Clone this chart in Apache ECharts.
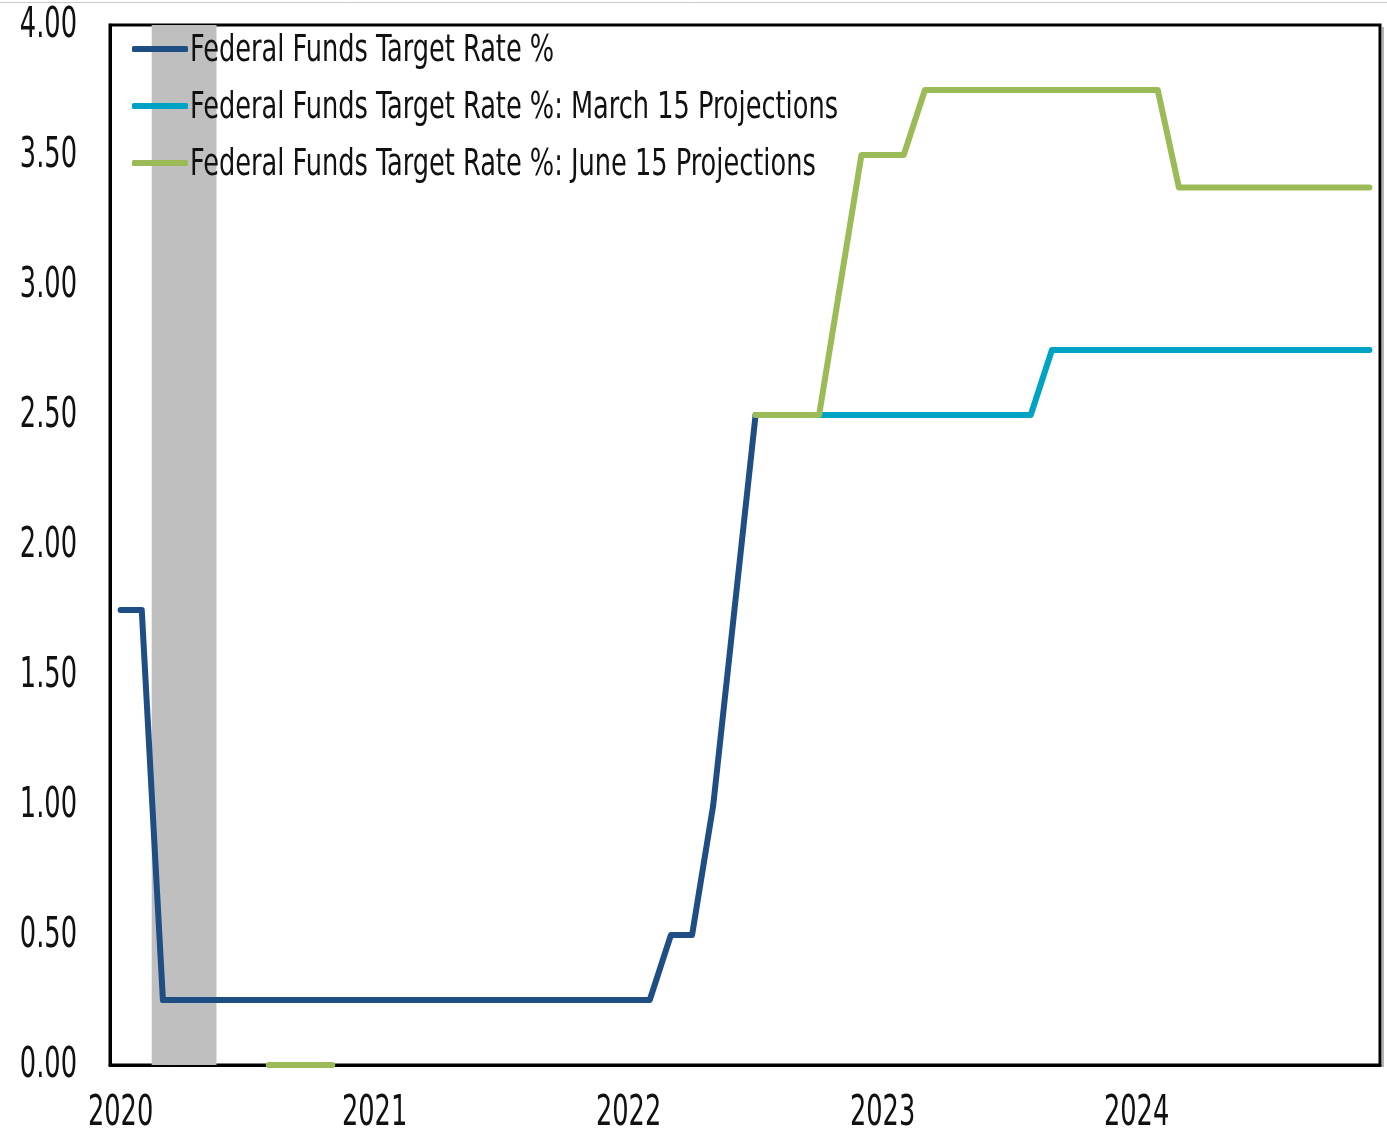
<!DOCTYPE html>
<html>
<head>
<meta charset="utf-8">
<script src="https://cdn.jsdelivr.net/npm/echarts@6/dist/echarts.min.js"></script>
<style>
html,body{margin:0;padding:0;background:#fff;}
#chart{width:1387px;height:1135px;}
</style>
</head>
<body>
<div id="chart"></div>
<script>
// Monthly categories Jan 2020 .. Dec 2024
const months = [
 '2020-01','2020-02','2020-03','2020-04','2020-05','2020-06','2020-07','2020-08','2020-09','2020-10','2020-11','2020-12',
 '2021-01','2021-02','2021-03','2021-04','2021-05','2021-06','2021-07','2021-08','2021-09','2021-10','2021-11','2021-12',
 '2022-01','2022-02','2022-03','2022-04','2022-05','2022-06','2022-07','2022-08','2022-09','2022-10','2022-11','2022-12',
 '2023-01','2023-02','2023-03','2023-04','2023-05','2023-06','2023-07','2023-08','2023-09','2023-10','2023-11','2023-12',
 '2024-01','2024-02','2024-03','2024-04','2024-05','2024-06','2024-07','2024-08','2024-09','2024-10','2024-11','2024-12'
];
const xTickLabels = ['2020', '2021', '2022', '2023', '2024'];
const yTicks = [0, 0.5, 1, 1.5, 2, 2.5, 3, 3.5, 4];
const seriesNames = [
  'Federal Funds Target Rate %',
  'Federal Funds Target Rate %: March 15 Projections',
  'Federal Funds Target Rate %: June 15 Projections'
];
const fedFunds = [
 1.75,1.75,0.25,0.25,0.25,0.25,0.25,0.25,0.25,0.25,0.25,0.25,
 0.25,0.25,0.25,0.25,0.25,0.25,0.25,0.25,0.25,0.25,0.25,0.25,
 0.25,0.25,0.50,0.50,1.00,1.75,2.50,null,null,null,null,null,
 null,null,null,null,null,null,null,null,null,null,null,null,
 null,null,null,null,null,null,null,null,null,null,null,null
];
const marchProj = [
 null,null,null,null,null,null,null,null,null,null,null,null,
 null,null,null,null,null,null,null,null,null,null,null,null,
 null,null,null,null,null,null,2.50,2.50,2.50,2.50,2.50,2.50,
 2.50,2.50,2.50,2.50,2.50,2.50,2.50,2.50,2.75,2.75,2.75,2.75,
 2.75,2.75,2.75,2.75,2.75,2.75,2.75,2.75,2.75,2.75,2.75,2.75
];
const juneProj = [
 null,null,null,null,null,null,null,0,0,0,0,null,
 null,null,null,null,null,null,null,null,null,null,null,null,
 null,null,null,null,null,null,2.50,2.50,2.50,2.50,3.00,3.50,
 3.50,3.50,3.75,3.75,3.75,3.75,3.75,3.75,3.75,3.75,3.75,3.75,
 3.75,3.75,3.375,3.375,3.375,3.375,3.375,3.375,3.375,3.375,3.375,3.375
];
// Recession shading (months in recession)
const recession = [
 null,null,4,4,4,null,null,null,null,null,null,null,
 null,null,null,null,null,null,null,null,null,null,null,null,
 null,null,null,null,null,null,null,null,null,null,null,null,
 null,null,null,null,null,null,null,null,null,null,null,null,
 null,null,null,null,null,null,null,null,null,null,null,null
];
const colors = ['#1F4E84', '#00A3C4', '#9BBB59'];

const FONT = "'DejaVu Sans Condensed', 'DejaVu Sans', sans-serif";
const AXIS_FS = 42, AXIS_SX = 0.68;
const LEG_FS = 38, LEG_SX = 0.75;
const LEG_TOP = 41, LEG_STEP = 57;

const chart = echarts.init(document.getElementById('chart'), null, {renderer: 'canvas'});
const lineSeries = [fedFunds, marchProj, juneProj].map((d, i) => ({
  name: seriesNames[i],
  type: 'line',
  data: d,
  symbol: 'none',
  connectNulls: false,
  z: 3 + i,
  lineStyle: {color: colors[i], width: 6, cap: 'round', join: 'round'},
  itemStyle: {color: colors[i]}
}));
chart.setOption({
  animation: false,
  backgroundColor: '#fff',
  textStyle: {fontFamily: FONT},
  grid: {left: 110, top: 25, right: 7, bottom: 70, show: true, borderColor: '#000', borderWidth: 3, backgroundColor: 'transparent'},
  legend: {
    show: true,
    data: seriesNames,
    orient: 'vertical',
    left: 127, top: LEG_TOP,
    icon: 'roundRect',
    itemWidth: 56, itemHeight: 6,
    itemGap: LEG_STEP - 6,
    formatter: () => '',
    textStyle: {fontSize: 6, lineHeight: 6}
  },
  xAxis: {
    type: 'category',
    data: months,
    boundaryGap: true,
    axisLine: {show: true, lineStyle: {color: '#000', width: 3}},
    axisTick: {show: false},
    splitLine: {show: false},
    axisLabel: {show: false}
  },
  yAxis: {
    type: 'value',
    min: 0, max: 4, interval: 0.5,
    axisLine: {show: true, lineStyle: {color: '#000', width: 3}},
    axisTick: {show: false},
    splitLine: {show: false},
    axisLabel: {show: false}
  },
  series: [{
    name: 'Recession',
    type: 'bar',
    data: recession,
    barWidth: '106%',
    barCategoryGap: '0%',
    silent: true,
    z: 1,
    itemStyle: {color: '#bfbfbf'}
  }].concat(lineSeries)
});

// Condensed (narrow) text labels placed through the chart's own axes
const gridLeft = 110, gridBottomY = chart.convertToPixel({yAxisIndex: 0}, 0);
const graphics = [{
  type: 'line', shape: {x1: 0, y1: 2.5, x2: 1387, y2: 2.5},
  style: {stroke: '#c8c8c8', lineWidth: 1}, silent: true
}, {
  type: 'line', shape: {x1: 1383, y1: 27, x2: 1383, y2: gridBottomY + 2},
  style: {stroke: '#9a9a9a', lineWidth: 1.5}, silent: true
}];
yTicks.forEach(v => {
  graphics.push({
    type: 'text', z: 20,
    x: gridLeft - 33,
    y: chart.convertToPixel({yAxisIndex: 0}, v) + 1,
    scaleX: AXIS_SX,
    style: {text: v.toFixed(2), fontFamily: FONT, fontSize: AXIS_FS, fill: '#111', align: 'right', verticalAlign: 'middle'},
    silent: true
  });
});
xTickLabels.forEach(y => {
  graphics.push({
    type: 'text', z: 20,
    x: chart.convertToPixel({xAxisIndex: 0}, y + '-01'),
    y: gridBottomY + 49,
    scaleX: AXIS_SX,
    style: {text: y, fontFamily: FONT, fontSize: AXIS_FS, fill: '#111', align: 'center', verticalAlign: 'middle'},
    silent: true
  });
});
seriesNames.forEach((n, i) => {
  graphics.push({
    type: 'text', z: 20,
    x: 190,
    y: LEG_TOP + 10 + i * LEG_STEP,
    scaleX: LEG_SX,
    style: {text: n, fontFamily: FONT, fontSize: LEG_FS, fill: '#111', align: 'left', verticalAlign: 'middle'},
    silent: true
  });
});
chart.setOption({graphic: graphics});
</script>
</body>
</html>
